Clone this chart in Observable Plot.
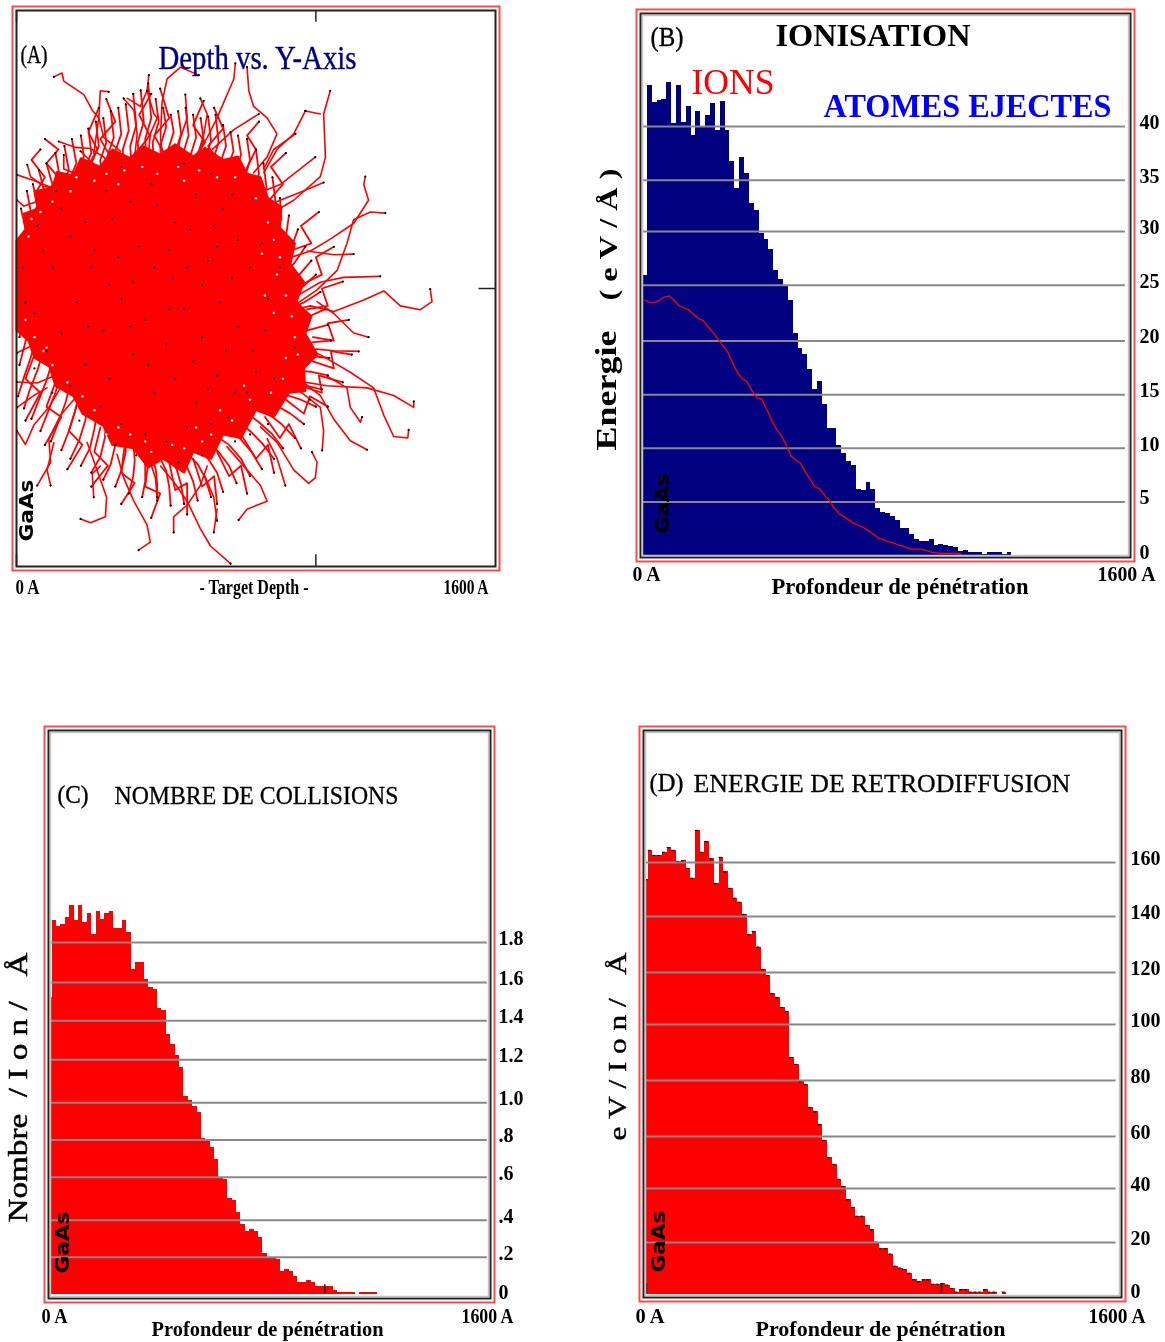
<!DOCTYPE html>
<html><head><meta charset="utf-8">
<script src="https://cdn.jsdelivr.net/npm/d3@7"></script>
<script src="https://cdn.jsdelivr.net/npm/@observablehq/plot@0.6"></script>
<style>
html,body{margin:0;padding:0;background:#fff}
#page{position:relative;width:1165px;height:1342px;overflow:hidden;filter:blur(.4px)}
#page svg{position:absolute;overflow:visible;background:transparent}
</style></head><body><div id="page"></div>
<script>
// ---- Histogram values per 16 A depth bin ----
const atomesB=[26.1,43.8,42.2,42.4,42.5,44.1,40.3,43.8,40.4,41.9,39.2,41.4,40.0,41.0,42.1,39.6,42.3,39.6,36.7,34.2,37.1,35.6,32.8,32.2,30.0,29.5,28.5,26.6,25.7,25.2,23.8,20.7,19.3,18.7,17.3,15.5,16.2,14.1,11.8,11.8,10.3,9.5,8.8,8.4,6.2,6.1,6.8,6.2,4.4,4.0,3.9,3.6,3.3,2.5,2.5,2.0,1.5,1.3,1.3,1.5,.9,1.0,.9,.8,.7,.4,.5,.3,.3,.25,.1,.25,.25,.25,.05,.25];
const ionsB=[23.8,23.6,23.6,23.8,24.1,24.2,23.8,23.3,23.1,22.9,22.5,22.1,21.9,21.3,20.8,20.2,19.6,19,18,17.1,16.5,16.2,15.4,14.7,14.6,13.7,12.7,11.8,11.2,10.4,9.3,8.9,8.6,7.8,7.1,6.4,6.2,5.6,5.1,4.4,3.9,3.6,3.3,3.0,2.8,2.6,2.3,2.0,1.6,1.5,1.3,1.2,1.0,.9,.7,.6,.6,.6,.45,.3,.25,.2,.2,.2,.2,.15];
const collisionsC=[1.52,1.91,1.88,1.89,1.93,1.99,1.91,1.99,1.90,1.95,1.84,1.96,1.92,1.95,1.96,1.87,1.87,1.91,1.85,1.66,1.70,1.70,1.61,1.57,1.56,1.46,1.45,1.33,1.28,1.22,1.16,1.01,.99,.96,.93,.80,.79,.75,.69,.60,.59,.49,.48,.42,.36,.32,.33,.32,.29,.21,.19,.19,.18,.12,.13,.12,.09,.06,.06,.07,.06,.04,.04,.04,.04,.02,.01,.01,.01,.01,0,.01,.01,.01,.01];
const energieD=[153.6,164.5,162.6,162.6,163.8,165.5,164.5,160.4,160.6,157.8,154.2,171.9,163.8,167.7,161.3,152.1,161.9,156.5,150.4,146.8,145.3,140.8,133.2,134.4,128.7,120.4,118.1,111.4,109.9,106.3,104.8,87.8,85.2,78.8,77.6,69.3,67.6,62.9,57.1,50.7,48.2,42.7,39.9,35.1,32.2,29,29,25.6,23.9,19.4,16.9,16.9,15,10.5,9.8,9.2,7.9,5.4,4.7,5.4,5.4,3.8,3.8,4.1,3.5,2.2,.9,1.8,1.8,.9,.9,.9,1.8,.9,.9,0,.9];
// ---- Gridline values and their printed labels ----
const gridB=[40,35,30.2,25.2,20,15,10,5,-0.1];
const gridBLabels=["40","35","30","25","20","15","10","5","0"];
const gridC=[1.8,1.595,1.4,1.2,.98,.79,.6,.38,.19,-0.01];
const gridCLabels=["1.8","1.6","1.4","1.2","1.0",".8",".6",".4",".2","0"];
const gridD=[160,140,119.3,100,79.3,58.5,39.3,19.3,-0.5];
const gridDLabels=["160","140","120","100","80","60","40","20","0"];
// ---- Panel A: trajectories [depth A, lateral A, depth A, lateral A, ...] ----
const coreA=[[0,138],[30,170],[25,215],[70,230],[60,280],[120,290],[135,335],[190,325],[215,375],[280,350],[320,400],[380,375],[420,410],[480,385],[530,415],[590,380],[630,405],[690,370],[740,380],[770,330],[815,320],[840,260],[885,235],[880,175],[930,130],[915,70],[960,20],[935,-40],[985,-80],[965,-130],[1005,-190],[960,-230],[965,-295],[910,-300],[860,-370],[800,-350],[750,-430],[690,-420],[650,-490],[590,-470],[560,-530],[490,-490],[440,-515],[390,-460],[320,-450],[290,-395],[220,-360],[190,-310],[130,-280],[110,-225],[60,-200],[40,-150],[0,-120]];
const tracksA=[
[125,609,152,620,158,597,225,558,253,513,275,491,258,389],[308,566,280,569,275,491,292,434,347,395],[141,423,197,406,247,403,292,378,336,333],
[442,614,436,569,414,524,370,547],[436,569,459,502,470,491,447,445,436,344],[609,614,548,637,503,603,486,535,481,434,492,356],
[731,648,726,603,692,535,670,491,637,434,570,344],[770,637,776,569,792,524,837,491,870,445,837,378,792,333],[1048,569,1026,502,1032,378,1015,322,926,254,859,220],
[965,511,1015,502],[965,511,926,445,870,400,826,333],[809,502,726,457,626,378,548,322],[1165,322,1160,299,1176,254,1126,187,1048,142,982,108,904,86],
[1232,217,1182,220,1126,198,1104,130,1071,52,1004,-4,926,-50],[1215,35,1093,32,1015,18,926,-27],[1382,-2,1388,-38,1349,-61,1282,-50,1227,-7,1160,-33,1060,-66,982,-50,926,-61],
[1176,-140,1126,-128,1060,-72,1004,-38],[1143,-181,1060,-179,982,-173,926,-162],[1327,-325,1327,-342,1260,-308,1171,-286,1037,-280,915,-263],
[1310,-407,1307,-430,1260,-426,1227,-365,1193,-286,1115,-241,1026,-196,948,-162],[1171,-464,1115,-438,1060,-376,1015,-308,948,-263],[1154,-370,1149,-385,1115,-342,1104,-286,1037,-252],
[987,-471,1004,-500,998,-545,976,-561,926,-522,870,-443,815,-398],[1021,-466,1026,-410,1015,-342,948,-297],[898,-567,870,-488,837,-432],
[742,-666,770,-635,837,-612,815,-567,770,-522,703,-455],[715,-792,648,-741,614,-691,570,-612,525,-556,481,-511],[408,-753,447,-730,436,-680,392,-612,358,-545,336,-477],
[214,-663,247,-674,297,-657,301,-601,269,-522,236,-443],[69,-567,114,-500,108,-432,147,-365,191,-320],[525,-702,525,-657,570,-623,614,-567,637,-511],
[670,-668,659,-601,626,-533],[659,-702,670,-635],[2,-410,30,-449,58,-393,108,-342,147,-286],[2,-342,58,-308,102,-286],[2,-269,69,-272,125,-252],[2,-185,58,-162,102,-151],
[2,254,24,237,80,254,147,266,225,288],[36,356,47,322,91,294,136,288,203,299],[2,327,58,311,125,288],[158,384,158,344,191,333,225,288],[214,395,247,367,280,333],
[614,547,637,502,626,445,603,378],[564,558,570,491,548,434,525,344],[358,547,392,513,403,445,392,356],[1126,99,1060,97,971,108],[1026,305,948,277,881,254,815,232],[998,378,948,344,881,299,815,277],
[932,445,859,400,826,344],[258,-601,253,-533,280,-511],[114,-567,102,-522,125,-443],[470,-601,464,-545,447,-500]
];
const haloA=[
[20,60,10,110,30,170,15,230],[40,90,25,150,50,210,35,280],[60,130,45,190,70,240,55,300],[85,160,70,220,95,270,75,340],[110,190,95,250,120,300,100,360],[135,210,120,270,145,320,130,390],[160,230,150,290,175,340,160,410],[185,250,175,310,200,360,185,430],[210,270,200,330,225,380,215,440],[235,280,225,340,250,390,240,460],[260,300,250,360,275,410,265,480],[285,310,280,370,300,420,290,490],[310,320,305,385,325,435,315,510],[335,330,330,395,350,445,340,520],
[360,335,355,400,375,455,365,530],[385,340,380,410,400,470,390,560],[410,340,405,420,425,480,415,570],[435,340,430,430,450,490,440,590],[460,335,455,420,475,480,465,545],[485,325,480,410,500,465,490,520],[510,320,505,395,525,450,515,500],[535,315,530,390,550,445,540,510],[560,305,555,385,575,440,565,520],[585,300,580,380,600,435,590,500],[610,295,605,375,625,430,615,490],[635,290,630,370,650,425,640,495],[660,285,655,365,675,420,665,500],[685,285,680,360,700,410,690,470],[710,280,705,350,725,395,715,450],[735,260,730,330,750,385,740,440],[760,240,760,310,780,370,770,430],[785,190,790,270,810,330,800,400],[800,150,815,230,835,290,825,360],
[810,120,840,190,865,250,855,320],[815,90,850,150,885,200,880,260],[820,60,860,110,900,150,910,210],[825,30,870,70,915,110,940,170],[830,0,880,40,925,70,965,120],[840,-30,890,10,935,30,985,80],[860,-60,900,-25,950,0,1000,40],[870,-90,910,-60,960,-40,1015,-10],[875,-120,915,-95,965,-85,1030,-60],[880,-150,925,-130,975,-120,1040,-105],[880,-180,930,-160,985,-155,1050,-150],[880,-210,935,-195,990,-195,1045,-200],[870,-240,925,-235,985,-240,1040,-250],[860,-270,915,-270,970,-280,1020,-290],[840,-300,895,-305,950,-320,1000,-340],
[810,-310,865,-335,915,-360,960,-390],[780,-330,840,-360,885,-390,930,-430],[750,-345,810,-385,855,-420,890,-460],[720,-370,780,-410,820,-445,860,-490],[690,-395,745,-430,785,-470,820,-520],[660,-420,710,-450,750,-490,780,-540],[630,-440,675,-470,710,-510,735,-560],[600,-455,640,-490,670,-530,690,-585],[570,-475,605,-505,630,-545,650,-600],[540,-480,570,-515,590,-555,605,-610],[510,-485,535,-520,550,-565,560,-620],[480,-488,500,-525,510,-570,515,-625],[450,-480,465,-520,470,-565,470,-610],[420,-460,430,-510,430,-555,420,-600],[390,-440,395,-495,390,-540,375,-590],[360,-420,365,-470,350,-525,330,-570],[330,-400,330,-450,315,-505,290,-550],[300,-375,295,-430,280,-485,250,-530],[270,-350,260,-405,245,-460,215,-510],[240,-325,230,-380,210,-435,180,-490],[210,-300,195,-355,175,-410,150,-465],[180,-270,165,-325,140,-385,115,-440],[150,-240,130,-300,105,-355,80,-410],[120,-210,100,-265,75,-320,50,-375],[90,-180,70,-235,45,-290,25,-345],[65,-150,45,-205,25,-255,5,-310],[40,-120,25,-170,10,-220],[20,-90,10,-140],
[230,340,270,400,240,450,275,520],[320,370,280,430,330,480,300,545],[400,390,445,440,410,500,450,560],[500,380,460,440,510,490,480,575],[590,370,630,420,590,470,625,540],[680,360,640,410,690,460,660,520],[760,330,800,400,770,440,810,480],[140,320,100,360,140,400,95,430],[60,270,95,320,50,370,80,400],[840,250,890,300,850,350,900,390],
[920,110,985,130,950,180,1010,220],[950,10,1020,40,1000,90,1060,120],[970,-60,1040,-50,1020,0,1090,20],[990,-140,1060,-150,1040,-100,1110,-90],[990,-210,1060,-230,1050,-180,1120,-190],[950,-280,1020,-300,1010,-250,1090,-270],[900,-320,960,-360,980,-310,1040,-340],
[830,-370,880,-430,910,-390,950,-460],[750,-420,800,-490,840,-450,860,-530],[670,-470,710,-540,750,-510,770,-590],[590,-490,620,-570,660,-540,670,-620],[510,-500,530,-580,570,-560,570,-650],[440,-500,430,-570,480,-590,450,-660],[360,-460,350,-530,395,-560,350,-620],[280,-400,260,-470,305,-510,250,-570],[200,-340,175,-410,220,-450,170,-520],[130,-270,100,-340,150,-370,95,-450],[60,-190,30,-260,80,-300,30,-380]
];
const stopsA=[[180,150],[250,60],[320,200],[410,120],[470,240],[520,30],[580,170],[640,80],[690,230],[740,140],[120,60],[200,-40],[290,-120],[350,-30],[430,-90],[500,-160],[560,-60],[620,-140],[680,-40],[740,-110],[790,-180],[150,-130],[230,-220],[310,-260],[390,-190],[460,-300],[530,-260],[600,-330],[670,-250],[730,-300],[800,-240],[90,110],[150,230],[230,190],[300,280],[380,250],[450,300],[530,190],[600,270],[660,180],[720,270],[780,60],[840,-30],[60,-70],[100,-180],[180,-280],[280,-340],[350,-390],[430,-420],[500,-440],[570,-400],[650,-390],[710,-370],[260,110],[340,90],[390,20],[460,60],[510,110],[570,60],[620,10],[670,120],[720,30],[310,10],[240,-110],[380,-110],[440,-220],[510,-60],[590,-210],[640,-290],[700,-180],[770,-300],[830,-120],[860,-260],[820,130],[880,60],[930,-170],[980,-320],[780,-420],[840,-390],[730,-440],[620,-480],[540,-500],[400,-480],[330,-450],[210,-380],[120,-300],[60,-230],[70,180],[130,280],[350,350],[420,400],[560,360],[650,330],[790,260],[30,-40],[20,60]];
const gapsA=[[120,250],[180,280],[260,310],[300,330],[360,340],[420,350],[470,330],[540,350],[610,340],[670,320],[730,320],[200,320],[560,310],[340,300],[800,260],[840,190],[860,140],[880,90],[870,40],[900,-20],[920,-80],[930,-140],[900,-200],[940,-190],[890,-260],[850,-300],[820,100],[830,-20],[860,-70],[780,-320],[720,-380],[680,-350],[620,-440],[560,-460],[600,-400],[520,-450],[450,-470],[380,-420],[340,-400],[260,-350],[220,-310],[170,-270],[120,-220],[90,-180],[60,-140],[300,-420],[430,-440],[650,-420],[760,-280],[50,200],[40,150],[80,220],[30,-90],[100,-170]];
// ---- Sizes and styles ----
const serif="Liberation Serif";
const depth=[0,1600];
const page=document.getElementById("page");
function fit(len){return function(i,s,v,d,c,next){const g=next(i,s,v,d,c);
  if(len) g.querySelectorAll("text").forEach(t=>{t.setAttribute("textLength",len);t.setAttribute("lengthAdjust","spacingAndGlyphs");t.style.whiteSpace="pre"});return g;};}
function lab(p,text,X,Y,o={}){return Plot.text([text],{text:d=>d,frameAnchor:"top-left",dx:X-p.fl,dy:Y-p.ft,textAnchor:"start",lineAnchor:"middle",
  fontFamily:o.font||serif,fontSize:o.size||20,fontWeight:o.bold?"bold":"normal",fill:o.fill||"#000",stroke:o.heavy?(o.fill||"#000"):"none",strokeWidth:o.heavy||0,rotate:o.rotate||0,render:fit(o.len)});}
function draw(p,marks,yDomain){
  const pl=Plot.plot({width:p.w,height:p.h,marginLeft:p.fl-p.ox,marginTop:p.ft-p.oy,marginRight:p.ox+p.w-p.fr,marginBottom:p.oy+p.h-p.fb,
    x:{domain:depth,range:[p.x0-p.ox,p.x1-p.ox],axis:null},y:{domain:yDomain,range:[p.y0-p.oy,p.y1-p.oy],axis:null},
    style:{background:"transparent",fontFamily:serif,fontWeight:"bold",fontSize:"20px",color:"#000"},marks});
  pl.style.left=p.ox+"px";pl.style.top=p.oy+"px";page.appendChild(pl);
}
function frames(){return [Plot.frame({stroke:"#ff4848",strokeWidth:2,inset:-4}),Plot.frame({stroke:"#222",strokeWidth:2}),Plot.frame({stroke:"#c4c4c4",strokeWidth:1.5,inset:2})];}
function bins(vals,firstNarrow){return vals.map((v,i)=>firstNarrow?{a:i?6+16*(i-1):0,b:6+16*i,v}:{a:16*i,b:16*i+16,v});}
function hist(rows,fill){return Plot.rectY(rows,{x1:"a",x2:"b",y1:0,y2:"v",fill,shapeRendering:"crispEdges"});}
function grid(vals,end){return Plot.ruleY(vals.slice(0,-1),{x1:0,x2:end,stroke:"#888",strokeWidth:2});}
function yAxis(vals,names,pad){return Plot.axisY({anchor:"right",ticks:vals,tickFormat:d=>names[vals.indexOf(d)],tickSize:0,tickPadding:pad,dy:-4,label:null,textStroke:"none"});}
function gaas(p,X,Y){return lab(p,"GaAs",X,Y,{font:"DejaVu Sans",size:19,bold:true,rotate:-90,len:62});}
const points=list=>list.flatMap((t,k)=>d3.range(0,t.length,2).map(i=>({k,x:t[i],y:t[i+1]})));

// Panel A
{const p={ox:0,oy:0,w:575,h:640,fl:16,ft:10,fr:495,fb:566,x0:16,x1:495,y0:566,y1:10};
 const ends=tracksA.map(t=>({x:t[0],y:t[1]})).concat(haloA.map(t=>({x:t[t.length-2],y:t[t.length-1]})));
 draw(p,[
  Plot.line(coreA.concat([coreA[0]]),{x:d=>d[0],y:d=>d[1],fill:"#f00",stroke:"#f00",strokeWidth:2}),
  Plot.line(points(haloA),{x:"x",y:"y",z:"k",stroke:"#f00",strokeWidth:1.8}),
  Plot.line(points(tracksA),{x:"x",y:"y",z:"k",stroke:"#f00",strokeWidth:1.6}),
  Plot.dot(gapsA,{x:d=>d[0],y:d=>d[1],r:1.2,fill:"#fff"}),
  Plot.dot(stopsA,{x:d=>d[0],y:d=>d[1],r:1.1,fill:"#000"}),
  Plot.dot(ends,{x:"x",y:"y",r:1.1,fill:"#000"}),
  Plot.ruleX([0,1000],{y1:-800,y2:-766,stroke:"#222",strokeWidth:1.5}),
  Plot.ruleX([0,1000],{y1:800,y2:766,stroke:"#222",strokeWidth:1.5}),
  Plot.ruleY([0],{x1:1545,x2:1600,stroke:"#222",strokeWidth:1.5}),
  ...frames().slice(0,2),
  lab(p,"(A)",20,54,{size:26,len:27,heavy:.4}),
  lab(p,"Depth vs. Y-Axis",158,58,{size:34,len:198,fill:"#000080",heavy:.4}),
  gaas(p,26,541),
  lab(p,"0 A",15,586,{size:22,bold:true,len:24}),
  lab(p,"- Target Depth -",199,586,{size:22,bold:true,len:109}),
  lab(p,"1600 A",443,586,{size:22,bold:true,len:45})
 ],[-800,800]);}

// Panel B
{const p={ox:575,oy:0,w:590,h:640,fl:640,ft:13,fr:1130,fb:557,x0:642,x1:1128,y0:555,y1:126};
 draw(p,[
  hist(bins(atomesB,false),"#000080"),
  grid(gridB,1590),
  Plot.line(ionsB,{x:(d,i)=>16*i+8,y:d=>d,stroke:"#f00",strokeWidth:1.3}),
  lab(p,"GaAs",662,533,{font:"DejaVu Sans",size:19,bold:true,rotate:-90,len:60}),
  ...frames(),
  yAxis(gridB,gridBLabels,9),
  lab(p,"(B)",650,37,{size:28,len:33,heavy:.4}),
  lab(p,"IONISATION",775,35,{size:32,bold:true,len:195}),
  lab(p,"IONS",691,82,{size:36,fill:"#f00",len:83}),
  lab(p,"ATOMES EJECTES",823,106,{size:33,bold:true,fill:"#0000ff",len:288}),
  lab(p,"Energie",606,450,{size:30,bold:true,rotate:-90,len:120}),
  lab(p,"(\u00a0e\u00a0V\u00a0/\u00a0\u00c5\u00a0)",608,300,{size:25,bold:true,rotate:-90,len:132}),
  lab(p,"0 A",632,573,{size:22,bold:true,len:28}),
  lab(p,"1600 A",1097,573,{size:22,bold:true,len:58}),
  lab(p,"Profondeur de p\u00e9n\u00e9tration",771,586,{size:23,bold:true,len:257})
 ],[0,40]);}

// Panel C
{const p={ox:0,oy:640,w:575,h:702,fl:48,ft:730,fr:490,fb:1298,x0:50,x1:489,y0:1294,y1:942};
 draw(p,[
  hist(bins(collisionsC,true),"#f00"),
  grid(gridC,1592),
  gaas(p,62,1273),
  Plot.ruleX([0,1000],{y1:0,y2:.05,stroke:"#222",strokeWidth:1.5}),
  ...frames(),
  yAxis(gridC,gridCLabels,8),
  lab(p,"(C)",57,794,{size:26,len:31,heavy:.4}),
  lab(p,"NOMBRE DE COLLISIONS",114,795,{size:26,len:284,heavy:.3}),
  lab(p,"Nombre\u00a0\u00a0/\u00a0I\u00a0o\u00a0n\u00a0/\u00a0\u00a0\u00a0\u00c5",18,1222,{size:27,rotate:-90,len:270,heavy:.5}),
  lab(p,"0 A",41,1315,{size:22,bold:true,len:26}),
  lab(p,"1600 A",461,1315,{size:22,bold:true,len:52}),
  lab(p,"Profondeur de p\u00e9n\u00e9tration",151,1328,{size:22,bold:true,len:232})
 ],[0,1.8]);}

// Panel D
{const p={ox:575,oy:640,w:590,h:702,fl:643,ft:730,fr:1121,fb:1297,x0:646,x1:1118,y0:1294,y1:862};
 const rows=bins(energieD,true);
 draw(p,[
  hist(rows,"#f00"),
  Plot.ruleY(rows.filter(d=>d.v>0),{x1:"a",x2:"b",y:"v",stroke:"#000",strokeWidth:1,strokeDasharray:"3 2"}),
  grid(gridD,1592),
  gaas(p,658,1272),
  Plot.ruleX([0,1000],{y1:0,y2:4,stroke:"#222",strokeWidth:1.5}),
  ...frames(),
  yAxis(gridD,gridDLabels,9),
  lab(p,"(D)",649,782,{size:26,len:34,heavy:.4}),
  lab(p,"ENERGIE DE RETRODIFFUSION",693,783,{size:26,len:377,heavy:.3}),
  lab(p,"e\u00a0V\u00a0/\u00a0I\u00a0o\u00a0n\u00a0/\u00a0\u00a0\u00a0\u00c5",617,1140,{size:26,rotate:-90,len:188,heavy:.4}),
  lab(p,"0 A",635,1315,{size:22,bold:true,len:29}),
  lab(p,"1600 A",1088,1315,{size:22,bold:true,len:57}),
  lab(p,"Profondeur de p\u00e9n\u00e9tration",755,1328,{size:22,bold:true,len:250})
 ],[0,160]);}
</script></body></html>
